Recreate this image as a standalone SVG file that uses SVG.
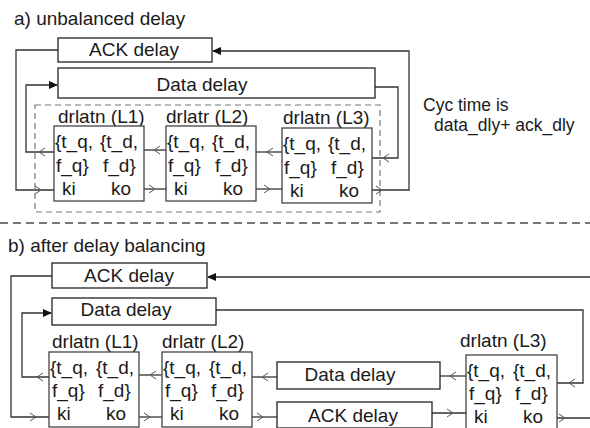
<svg xmlns="http://www.w3.org/2000/svg" width="590" height="428" viewBox="0 0 590 428">
<style>
text{font-family:"Liberation Sans",Arial,sans-serif;font-size:19px;fill:#1a1a1a}
.note{font-size:17.5px}
.box{fill:#fff;stroke:#444;stroke-width:1.3}
.dbox{fill:#fff;stroke:#222;stroke-width:1.3}
.ln{fill:none;stroke:#333;stroke-width:1.3}
.dash{fill:none;stroke:#777;stroke-width:1.2;stroke-dasharray:6,4}
.sep{fill:none;stroke:#777;stroke-width:2.2;stroke-dasharray:8,5}
.mid{text-anchor:middle}
</style>
<defs>
<path id="ch" d="M-3,-4 L3,0 L-3,4" fill="none" stroke="#555" stroke-width="1"/>
<path id="fa" d="M0,0 L-9,-4 L-9,4 Z" fill="#111"/>
</defs>

<text x="14" y="25">a) unbalanced delay</text>
<text x="8" y="252">b) after delay balancing</text>
<text class="note" x="423" y="111">Cyc time is</text>
<text class="note" x="434" y="131">data_dly+ ack_dly</text>

<path class="sep" d="M0,223 H590"/>
<rect class="dash" x="35" y="105" width="345" height="107"/>

<g id="connectors">
<!-- part a -->
<path class="ln" d="M409,191 V51 H213"/>
<use href="#fa" transform="translate(212,51) rotate(180)"/>
<path class="ln" d="M372,190 H409"/>
<use href="#ch" transform="translate(379,190)"/>
<path class="ln" d="M375,87 H398 V158 H372"/>
<use href="#ch" transform="translate(386,158) rotate(180)"/>
<path class="ln" d="M58,50 H16 V190 H54"/>
<use href="#ch" transform="translate(38,190)"/>
<path class="ln" d="M57,85 H26 V152 H54"/>
<use href="#fa" transform="translate(58,85)"/>
<use href="#ch" transform="translate(42,152) rotate(180)"/>
<path class="ln" d="M144,150 H166"/>
<use href="#ch" transform="translate(157,150) rotate(180)"/>
<path class="ln" d="M144,189 H166"/>
<use href="#ch" transform="translate(152,189)"/>
<path class="ln" d="M256,152 H282"/>
<use href="#ch" transform="translate(270,152) rotate(180)"/>
<path class="ln" d="M256,189 H282"/>
<use href="#ch" transform="translate(267,189)"/>
<!-- part b -->
<path class="ln" d="M590,277 H208"/>
<use href="#fa" transform="translate(207,277) rotate(180)"/>
<path class="ln" d="M216,310 H583 V383 H557"/>
<use href="#ch" transform="translate(572,383) rotate(180)"/>
<path class="ln" d="M52,276 H11 V417 H49"/>
<use href="#ch" transform="translate(33,417)"/>
<path class="ln" d="M51,313 H22 V377 H49"/>
<use href="#fa" transform="translate(52,313)"/>
<use href="#ch" transform="translate(40,377) rotate(180)"/>
<path class="ln" d="M139,375 H162"/>
<use href="#ch" transform="translate(153,375) rotate(180)"/>
<path class="ln" d="M139,417 H162"/>
<use href="#ch" transform="translate(147,417)"/>
<path class="ln" d="M252,377 H277"/>
<use href="#ch" transform="translate(265,377) rotate(180)"/>
<path class="ln" d="M252,417 H277"/>
<use href="#ch" transform="translate(260,417)"/>
<path class="ln" d="M440,376 H466"/>
<use href="#ch" transform="translate(453,376) rotate(180)"/>
<path class="ln" d="M432,413 H466"/>
<use href="#ch" transform="translate(450,413)"/>
<path class="ln" d="M557,418 H590"/>
<use href="#ch" transform="translate(562,418)"/>
</g>

<g id="a-ack-delay"><rect class="dbox" x="58" y="38" width="154" height="24"/><text class="mid" x="134" y="56">ACK delay</text></g>
<g id="a-data-delay"><rect class="dbox" x="58" y="68" width="317" height="30"/><text class="mid" x="202" y="91">Data delay</text></g>

<g id="a-L1"><text x="58" y="123">drlatn (L1)</text><rect class="box" x="54" y="126" width="90" height="75"/>
<text x="55" y="148">{t_q,</text><text x="100" y="148">{t_d,</text><text x="56" y="172">f_q}</text><text x="103" y="172">f_d}</text><text x="62" y="195">ki</text><text x="111" y="195">ko</text></g>
<g id="a-L2"><text x="166" y="123">drlatr (L2)</text><rect class="box" x="166" y="126" width="90" height="75"/>
<text x="167" y="148">{t_q,</text><text x="212" y="148">{t_d,</text><text x="168" y="172">f_q}</text><text x="215" y="172">f_d}</text><text x="174" y="195">ki</text><text x="223" y="195">ko</text></g>
<g id="a-L3"><text x="283" y="124">drlatn (L3)</text><rect class="box" x="282" y="128" width="90" height="75"/>
<text x="283" y="150">{t_q,</text><text x="328" y="150">{t_d,</text><text x="284" y="174">f_q}</text><text x="331" y="174">f_d}</text><text x="290" y="197">ki</text><text x="339" y="197">ko</text></g>

<g id="b-ack-delay"><rect class="dbox" x="52" y="263" width="155" height="25"/><text class="mid" x="129" y="282">ACK delay</text></g>
<g id="b-data-delay"><rect class="dbox" x="52" y="298" width="164" height="27"/><text class="mid" x="126" y="316">Data delay</text></g>
<g id="b-data-delay2"><rect class="dbox" x="277" y="362" width="163" height="27"/><text class="mid" x="350" y="381">Data delay</text></g>
<g id="b-ack-delay2"><rect class="dbox" x="277" y="402" width="155" height="26"/><text class="mid" x="353" y="422">ACK delay</text></g>

<g id="b-L1"><text x="52" y="348">drlatn (L1)</text><rect class="box" x="49" y="352" width="90" height="75"/>
<text x="50" y="374">{t_q,</text><text x="96" y="374">{t_d,</text><text x="52" y="397">f_q}</text><text x="98" y="397">f_d}</text><text x="57" y="420">ki</text><text x="106" y="420">ko</text></g>
<g id="b-L2"><text x="162" y="348">drlatr (L2)</text><rect class="box" x="162" y="352" width="90" height="75"/>
<text x="163" y="374">{t_q,</text><text x="209" y="374">{t_d,</text><text x="165" y="397">f_q}</text><text x="211" y="397">f_d}</text><text x="170" y="420">ki</text><text x="219" y="420">ko</text></g>
<g id="b-L3"><text x="460" y="347">drlatn (L3)</text><rect class="box" x="466" y="355" width="91" height="80"/>
<text x="467" y="377">{t_q,</text><text x="513" y="377">{t_d,</text><text x="469" y="400">f_q}</text><text x="515" y="400">f_d}</text><text x="474" y="423">ki</text><text x="523" y="423">ko</text></g>
</svg>
